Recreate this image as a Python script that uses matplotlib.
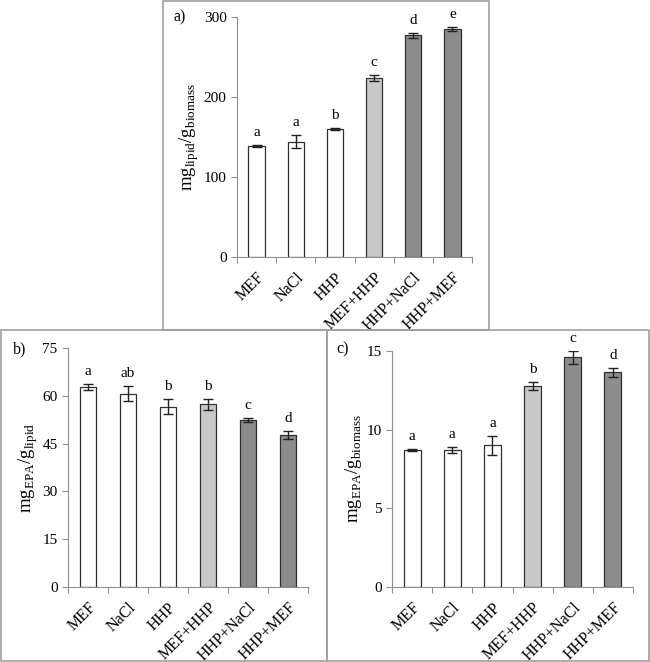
import matplotlib.pyplot as plt
from matplotlib.patches import Rectangle

plt.rcParams['font.family'] = ['Liberation Serif', 'DejaVu Serif']
plt.rcParams['mathtext.fontset'] = 'custom'
plt.rcParams['mathtext.rm'] = 'Liberation Serif'

categories = ['MEF', 'NaCl', 'HHP', 'MEF+HHP', 'HHP+NaCl', 'HHP+MEF']
bar_colors = ['white', 'white', 'white', '#c8c8c8', '#8c8c8c', '#8c8c8c']

lipid = [139, 144, 160, 224, 277, 285]
lipid_err = [1, 8, 1, 4, 3, 3]
lipid_sig = ['a', 'a', 'b', 'c', 'd', 'e']

epa_lipid = [62.7, 60.7, 56.6, 57.3, 52.5, 47.7]
epa_lipid_err = [1.0, 2.4, 2.4, 1.8, 0.6, 1.2]
epa_lipid_sig = ['a', 'ab', 'b', 'b', 'c', 'd']

epa_bio = [8.7, 8.7, 9.0, 12.8, 14.6, 13.65]
epa_bio_err = [0.05, 0.2, 0.6, 0.25, 0.4, 0.3]
epa_bio_sig = ['a', 'a', 'a', 'b', 'c', 'd']

W, H = 650, 662
fig = plt.figure(figsize=(6.5, 6.62), dpi=100)

# panel frames (pixels: x0, y0 from top, x1, y1)
for x0, y0, x1, y1 in [(163, 1, 489, 330), (1, 330, 327, 661), (327, 330, 649, 661)]:
    fig.patches.append(Rectangle((x0 / W, 1 - y1 / H), (x1 - x0) / W, (y1 - y0) / H,
                                 transform=fig.transFigure, fill=False,
                                 edgecolor='#a0a0a0', lw=1.2))


def panel(rect, vals, errs, sig, ymax, step, ylabel, tag, tag_xy):
    l, t, r, b = rect
    ax = fig.add_axes([l / W, 1 - b / H, (r - l) / W, (b - t) / H])
    x = range(len(categories))
    ax.bar(x, vals, width=0.42, color=bar_colors, edgecolor='#303030', lw=0.9, zorder=2)
    ax.errorbar(x, vals, yerr=errs, fmt='none', ecolor='#202020', elinewidth=1.0,
                capsize=3.5, capthick=1.0, zorder=3)
    for i, (v, e, s) in enumerate(zip(vals, errs, sig)):
        ax.text(i, v + e + ymax * 0.025, s, ha='center', va='bottom', fontsize=11)
    ax.set_xlim(-0.5, len(categories) - 0.5)
    ax.set_ylim(0, ymax)
    ax.set_yticks([k * step for k in range(int(ymax / step) + 1)])
    ax.set_xticks([i - 0.5 for i in range(len(categories) + 1)], minor=False)
    ax.set_xticklabels([])
    ax.set_xticks(list(x), minor=True)
    ax.set_xticklabels(categories, minor=True, rotation=45, ha='right',
                       rotation_mode='anchor', fontsize=11.5)
    ax.tick_params(axis='x', which='minor', length=0, pad=9)
    ax.tick_params(axis='x', which='major', length=4, color='#909090')
    ax.tick_params(axis='y', length=4, color='#909090', labelsize=11)
    for s in ['top', 'right']:
        ax.spines[s].set_visible(False)
    for s in ['left', 'bottom']:
        ax.spines[s].set_color('#909090')
    ax.set_ylabel(ylabel, fontsize=13.5, labelpad=2)
    fig.text(tag_xy[0] / W, 1 - tag_xy[1] / H, tag, fontsize=11.5, va='center')
    return ax


panel((237, 17, 472, 257), lipid, lipid_err, lipid_sig, 300, 100,
      r'mg$_{\mathregular{lipid}}$/g$_{\mathregular{biomass}}$', 'a)', (174, 17))
panel((68, 348, 308, 587), epa_lipid, epa_lipid_err, epa_lipid_sig, 75, 15,
      r'mg$_{\mathregular{EPA}}$/g$_{\mathregular{lipid}}$', 'b)', (13, 349))
panel((392, 351, 633, 587), epa_bio, epa_bio_err, epa_bio_sig, 15, 5,
      r'mg$_{\mathregular{EPA}}$/g$_{\mathregular{biomass}}$', 'c)', (336, 349))

fig.savefig('out.png', dpi=100)
